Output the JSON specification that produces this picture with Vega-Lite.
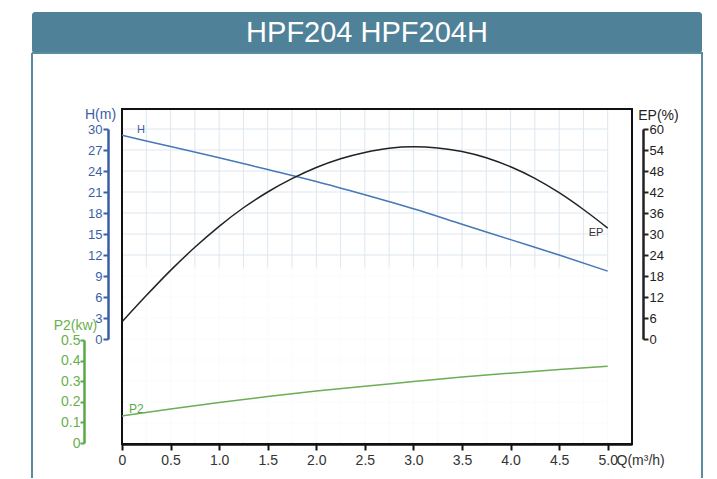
{
  "$schema": "https://vega.github.io/schema/vega-lite/v6.json",
  "padding": {"left": 31, "top": 12, "right": 16, "bottom": 0},
  "background": "white",
  "bounds": "flush",
  "spacing": 0,
  "config": {"font": "Liberation Sans", "view": {"stroke": null}},
  "datasets": {
    "H": [
      {"q": 0, "h": 29.1}, {"q": 0.5, "h": 27.5}, {"q": 1.0, "h": 25.9}, {"q": 1.5, "h": 24.2},
      {"q": 2.0, "h": 22.5}, {"q": 2.5, "h": 20.6}, {"q": 3.0, "h": 18.6}, {"q": 3.5, "h": 16.4},
      {"q": 4.0, "h": 14.2}, {"q": 4.5, "h": 12.0}, {"q": 5.0, "h": 9.7}
    ],
    "EP": [
      {"q": 0, "ep": 4.9}, {"q": 0.25, "ep": 12.4}, {"q": 0.5, "ep": 19.6}, {"q": 0.75, "ep": 26.2},
      {"q": 1.0, "ep": 32.2}, {"q": 1.25, "ep": 37.5}, {"q": 1.5, "ep": 42.0}, {"q": 1.75, "ep": 45.8},
      {"q": 2.0, "ep": 49.0}, {"q": 2.25, "ep": 51.5}, {"q": 2.5, "ep": 53.3}, {"q": 2.75, "ep": 54.5},
      {"q": 3.0, "ep": 54.9}, {"q": 3.25, "ep": 54.6}, {"q": 3.5, "ep": 53.6}, {"q": 3.75, "ep": 51.8},
      {"q": 4.0, "ep": 49.2}, {"q": 4.25, "ep": 45.9}, {"q": 4.5, "ep": 41.8}, {"q": 4.75, "ep": 37.0},
      {"q": 5.0, "ep": 31.7}
    ],
    "P2": [
      {"q": 0, "p2": 0.131}, {"q": 0.5, "p2": 0.165}, {"q": 1.0, "p2": 0.197}, {"q": 1.5, "p2": 0.226},
      {"q": 2.0, "p2": 0.252}, {"q": 2.5, "p2": 0.276}, {"q": 3.0, "p2": 0.298}, {"q": 3.5, "p2": 0.32},
      {"q": 4.0, "p2": 0.339}, {"q": 4.5, "p2": 0.357}, {"q": 5.0, "p2": 0.373}
    ],
    "vgrid": [
      {"q": 0.25}, {"q": 0.5}, {"q": 0.75}, {"q": 1.0}, {"q": 1.25}, {"q": 1.5}, {"q": 1.75}, {"q": 2.0},
      {"q": 2.25}, {"q": 2.5}, {"q": 2.75}, {"q": 3.0}, {"q": 3.25}, {"q": 3.5}, {"q": 3.75}, {"q": 4.0},
      {"q": 4.25}, {"q": 4.5}, {"q": 4.75}, {"q": 5.0}
    ],
    "hgrid": [
      {"h": -12}, {"h": -9}, {"h": -6}, {"h": -3}, {"h": 0}, {"h": 3}, {"h": 6}, {"h": 9}, {"h": 12}, {"h": 15},
      {"h": 18}, {"h": 21}, {"h": 24}, {"h": 27}, {"h": 30}
    ]
  },
  "vconcat": [
    {
      "width": 670,
      "height": 41,
      "view": {"fill": "#4f8199", "stroke": null, "cornerRadius": 3},
      "data": {"values": [{"title": "HPF204 HPF204H"}]},
      "mark": {"type": "text", "color": "white", "fontSize": 29, "align": "center", "baseline": "middle", "font": "Liberation Sans"},
      "encoding": {"text": {"field": "title", "type": "nominal"}}
    },
    {
      "width": 670,
      "height": 425,
      "view": {"stroke": "#5b8ba3", "strokeWidth": 2, "strokeDash": [1095, 670, 425, 0]},
      "resolve": {"scale": {"y": "independent"}, "axis": {"y": "independent"}},
      "layer": [
        {
          "layer": [
            {
              "data": {"name": "vgrid"},
              "mark": {"type": "rule", "color": "#dce7ef", "strokeWidth": 1},
              "encoding": {
                "x": {"field": "q", "type": "quantitative", "scale": {"domain": [0, 5.25], "range": [90, 600], "nice": false, "zero": false},
                  "axis": {"orient": "bottom", "offset": -34,
                    "values": [0, 0.25, 0.5, 0.75, 1, 1.25, 1.5, 1.75, 2, 2.25, 2.5, 2.75, 3, 3.25, 3.5, 3.75, 4, 4.25, 4.5, 4.75, 5, 5.25],
                    "labelExpr": "datum.value == 0 ? '0' : ((abs(datum.value * 2 - round(datum.value * 2)) < 0.001 && datum.value < 5.1) ? format(datum.value, '.1f') : '')",
                    "domainColor": "#111111", "domainWidth": 2.5, "tickColor": "#111111", "tickWidth": 2, "tickSize": 6,
                    "labelColor": "#333333", "labelFontSize": 14, "labelPadding": 3, "labelFlush": false, "labelOverlap": false,
                    "grid": false,
                    "title": "Q(m³/h)", "titleX": 584, "titleY": 9, "titleAlign": "left", "titleBaseline": "top", "titleAnchor": null,
                    "titleFontWeight": "normal", "titleFontSize": 14, "titleColor": "#333333"}},
                "y": {"datum": -15, "type": "quantitative"},
                "y2": {"datum": 32.857}
              }
            },
            {
              "data": {"name": "hgrid"},
              "mark": {"type": "rule", "color": "#dce7ef", "strokeWidth": 1},
              "encoding": {
                "x": {"datum": 0, "type": "quantitative"},
                "x2": {"datum": 5.0},
                "y": {"field": "h", "type": "quantitative"}
              }
            },
            {
              "data": {"values": [{"k": 1}]},
              "mark": {"type": "rect", "color": "white", "opacity": 0.8},
              "encoding": {
                "x": {"datum": 0.015, "type": "quantitative"},
                "x2": {"datum": 5.25},
                "y": {"datum": 10.2, "type": "quantitative"},
                "y2": {"datum": -14.7}
              }
            },
            {
              "data": {"values": [{"k": 1}]},
              "mark": {"type": "rect", "fill": null, "fillOpacity": 0, "stroke": "#111111", "strokeWidth": 2},
              "encoding": {
                "x": {"datum": 0, "type": "quantitative"},
                "x2": {"datum": 5.25},
                "y": {"datum": -15, "type": "quantitative"},
                "y2": {"datum": 32.857}
              }
            },
            {
              "data": {"name": "H"},
              "mark": {"type": "line", "color": "#4677b8", "strokeWidth": 1.5, "interpolate": "monotone"},
              "encoding": {
                "x": {"field": "q", "type": "quantitative"},
                "y": {"field": "h", "type": "quantitative",
                  "scale": {"domain": [0, 30], "range": [286, 76], "zero": false, "nice": false},
                  "axis": {"orient": "left", "offset": -76, "values": [0, 3, 6, 9, 12, 15, 18, 21, 24, 27, 30], "format": "d",
                    "domainColor": "#3a5ea6", "domainWidth": 2.5, "tickColor": "#3a5ea6", "tickWidth": 2, "tickSize": 5,
                    "labelColor": "#3a5ea6", "labelFontSize": 13, "labelPadding": 1, "labelOverlap": false, "labelBound": false,
                    "grid": false,
                    "title": "H(m)", "titleColor": "#3a5ea6", "titleFontSize": 14, "titleFontWeight": "normal",
                    "titleAngle": 0, "titleAlign": "center", "titleBaseline": "middle", "titleX": -8, "titleY": 61, "titleAnchor": null}
                }
              }
            },
            {
              "data": {"values": [{"q": 0.195, "h": 29.86, "label": "H"}]},
              "mark": {"type": "text", "color": "#3a5ea6", "fontSize": 11, "align": "center", "baseline": "middle"},
              "encoding": {
                "x": {"field": "q", "type": "quantitative"},
                "y": {"field": "h", "type": "quantitative"},
                "text": {"field": "label", "type": "nominal"}
              }
            }
          ]
        },
        {
          "layer": [
            {
              "data": {"name": "EP"},
              "mark": {"type": "line", "color": "#222222", "strokeWidth": 1.5, "interpolate": "monotone"},
              "encoding": {
                "x": {"field": "q", "type": "quantitative"},
                "y": {"field": "ep", "type": "quantitative",
                  "scale": {"domain": [0, 60], "range": [286, 76], "zero": false, "nice": false},
                  "axis": {"orient": "right", "offset": -59, "values": [0, 6, 12, 18, 24, 30, 36, 42, 48, 54, 60], "format": "d",
                    "domainColor": "#222222", "domainWidth": 2.5, "tickColor": "#222222", "tickWidth": 2, "tickSize": 5,
                    "labelColor": "#222222", "labelFontSize": 13, "labelPadding": 1, "labelOverlap": false, "labelBound": false, "grid": false,
                    "title": "EP(%)", "titleColor": "#222222", "titleFontSize": 14, "titleFontWeight": "normal",
                    "titleAngle": 0, "titleAlign": "center", "titleBaseline": "middle", "titleX": 15, "titleY": 62, "titleAnchor": null}
                }
              }
            },
            {
              "data": {"values": [{"q": 4.88, "ep": 30.2, "label": "EP"}]},
              "mark": {"type": "text", "color": "#333333", "fontSize": 11, "align": "center", "baseline": "middle"},
              "encoding": {
                "x": {"field": "q", "type": "quantitative"},
                "y": {"field": "ep", "type": "quantitative"},
                "text": {"field": "label", "type": "nominal"}
              }
            }
          ]
        },
        {
          "layer": [
            {
              "data": {"name": "P2"},
              "mark": {"type": "line", "color": "#6aaf55", "strokeWidth": 1.5, "interpolate": "monotone"},
              "encoding": {
                "x": {"field": "q", "type": "quantitative"},
                "y": {"field": "p2", "type": "quantitative",
                  "scale": {"domain": [0, 0.5], "range": [390, 287], "zero": false, "nice": false},
                  "axis": {"orient": "left", "offset": -52, "values": [0, 0.1, 0.2, 0.3, 0.4, 0.5],
                    "labelExpr": "datum.value == 0 ? '0' : format(datum.value, '.1f')",
                    "domainColor": "#5aa846", "domainWidth": 2.5, "tickColor": "#5aa846", "tickWidth": 2, "tickSize": 4,
                    "labelColor": "#6ab04c", "labelFontSize": 14, "labelPadding": 0, "labelOverlap": false, "labelBound": false, "grid": false,
                    "title": "P2(kw)", "titleColor": "#6ab04c", "titleFontSize": 14, "titleFontWeight": "normal",
                    "titleAngle": 0, "titleAlign": "center", "titleBaseline": "middle", "titleX": -9, "titleY": 272, "titleAnchor": null}
                }
              }
            },
            {
              "data": {"values": [{"q": 0.147, "p2": 0.164, "label": "P2"}]},
              "mark": {"type": "text", "color": "#5aa846", "fontSize": 12, "align": "center", "baseline": "middle"},
              "encoding": {
                "x": {"field": "q", "type": "quantitative"},
                "y": {"field": "p2", "type": "quantitative"},
                "text": {"field": "label", "type": "nominal"}
              }
            }
          ]
        }
      ]
    }
  ]
}
